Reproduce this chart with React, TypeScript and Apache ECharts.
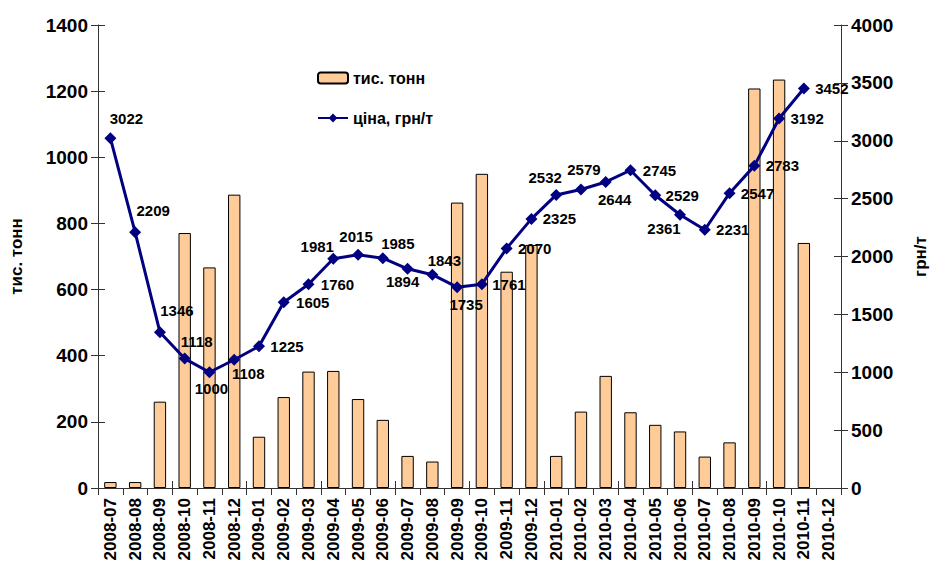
import React, { useEffect, useRef } from "react";
import * as echarts from "echarts";

const categories = [
  "2008-07", "2008-08", "2008-09", "2008-10", "2008-11", "2008-12",
  "2009-01", "2009-02", "2009-03", "2009-04", "2009-05", "2009-06",
  "2009-07", "2009-08", "2009-09", "2009-10", "2009-11", "2009-12",
  "2010-01", "2010-02", "2010-03", "2010-04", "2010-05", "2010-06",
  "2010-07", "2010-08", "2010-09", "2010-10", "2010-11", "2010-12",
];

const volume = [
  18, 18, 261, 771, 667, 887,
  155, 275, 352, 354, 269, 206,
  97, 80, 863, 950, 654, 735,
  97, 231, 339, 229, 191, 171,
  95, 138, 1208, 1235, 741, null,
];

const price = [
  3022, 2209, 1346, 1118, 1000, 1108,
  1225, 1605, 1760, 1981, 2015, 1985,
  1894, 1843, 1735, 1761, 2070, 2325,
  2532, 2579, 2644, 2745, 2529, 2361,
  2231, 2547, 2783, 3192, 3452, null,
];

// label offsets (dx, dy) relative to each marker
const labelOffsets = [
  [16, -20], [18, -22], [17, -22], [12, -17], [2, 16], [14, 14],
  [28, 0], [29, 0], [29, 0], [-16, -12], [-2, -18], [15, -15],
  [-5, 13], [12, -14], [9, 17], [27, 0], [28, 0], [28, 0],
  [-11, -17], [3, -20], [9, 18], [29, 0], [27, 0], [-16, 14],
  [28, 0], [28, 0], [28, 0], [28, 0], [28, 0], [0, 0],
];

const leftTicks = { min: 0, max: 1400, interval: 200 };
const rightTicks = { min: 0, max: 4000, interval: 500 };

const FONT = "'Liberation Sans', Arial, sans-serif";
const AXIS_COLOR = "#333";

export default function App() {
  const ref = useRef<HTMLDivElement>(null);

  useEffect(() => {
    if (!ref.current) return;
    const chart = echarts.init(ref.current, undefined, { renderer: "svg" });

    const tickLabel = {
      fontFamily: FONT,
      fontWeight: "bold",
      fontSize: 19,
      color: "#000",
      formatter: (v: number) => String(v),
    };

    const option: any = {
      animation: false,
      backgroundColor: "#fff",
      textStyle: { fontFamily: FONT },
      grid: { left: 97, right: 79, top: 25, bottom: 82 },
      legend: {
        orient: "vertical",
        left: 317,
        top: 70,
        padding: 0,
        itemWidth: 30,
        itemHeight: 11,
        itemGap: 24,
        textStyle: { fontFamily: FONT, fontWeight: "bold", fontSize: 16, color: "#000" },
        data: ["тис. тонн", "ціна, грн/т"],
      },
      xAxis: [
        {
          type: "category",
          data: categories,
          boundaryGap: true,
          axisLine: { lineStyle: { color: AXIS_COLOR, width: 1 } },
          axisTick: { show: true, length: 7, inside: false, lineStyle: { color: AXIS_COLOR } },
          axisLabel: {
            fontFamily: FONT,
            fontWeight: "bold",
            fontSize: 17,
            color: "#000",
            rotate: 90,
            interval: 0,
            margin: 10,
          },
          splitLine: { show: false },
        },
        {
          type: "category",
          data: categories,
          boundaryGap: true,
          position: "bottom",
          axisLine: { show: false },
          axisTick: { show: true, length: 7, inside: true, lineStyle: { color: AXIS_COLOR } },
          axisLabel: { show: false },
          splitLine: { show: false },
        },
      ],
      yAxis: [
        {
          type: "value",
          ...leftTicks,
          position: "left",
          name: "тис. тонн",
          nameLocation: "middle",
          nameRotate: 90,
          nameGap: 73,
          nameTextStyle: { fontFamily: FONT, fontWeight: "bold", fontSize: 17, color: "#000" },
          axisLine: { show: true, lineStyle: { color: AXIS_COLOR, width: 1 } },
          axisTick: { show: true, length: 7, lineStyle: { color: AXIS_COLOR } },
          axisLabel: { ...tickLabel, margin: 10 },
          splitLine: { show: false },
        },
        {
          type: "value",
          ...rightTicks,
          position: "right",
          name: "грн/т",
          nameLocation: "middle",
          nameRotate: 90,
          nameGap: 71,
          nameTextStyle: { fontFamily: FONT, fontWeight: "bold", fontSize: 17, color: "#000" },
          axisLine: { show: true, lineStyle: { color: AXIS_COLOR, width: 1 } },
          axisTick: { show: true, length: 7, lineStyle: { color: AXIS_COLOR } },
          axisLabel: { ...tickLabel, margin: 10 },
          splitLine: { show: false },
        },
        {
          type: "value",
          ...leftTicks,
          position: "left",
          axisLine: { show: false },
          axisTick: { show: true, inside: true, length: 7, lineStyle: { color: AXIS_COLOR } },
          axisLabel: { show: false },
          splitLine: { show: false },
        },
        {
          type: "value",
          ...rightTicks,
          position: "right",
          axisLine: { show: false },
          axisTick: { show: true, inside: true, length: 7, lineStyle: { color: AXIS_COLOR } },
          axisLabel: { show: false },
          splitLine: { show: false },
        },
      ],
      series: [
        {
          name: "тис. тонн",
          type: "bar",
          xAxisIndex: 0,
          yAxisIndex: 0,
          data: volume,
          barWidth: "50%",
          itemStyle: { color: "#FFCC99", borderColor: "#000", borderWidth: 1 },
          z: 2,
        },
        {
          name: "ціна, грн/т",
          type: "line",
          xAxisIndex: 0,
          yAxisIndex: 1,
          data: price.map((v, i) => ({
            value: v,
            label: { offset: labelOffsets[i] },
          })),
          symbol: "diamond",
          symbolSize: 12,
          lineStyle: { color: "#000080", width: 3 },
          itemStyle: { color: "#000080" },
          label: {
            show: true,
            position: "inside",
            fontFamily: FONT,
            fontWeight: "bold",
            fontSize: 15,
            color: "#000",
          },
          z: 5,
        },
      ],
    };

    chart.setOption(option);
    return () => chart.dispose();
  }, []);

  return (
    <div
      ref={ref}
      style={{ position: "fixed", left: 0, top: 0, width: 937, height: 570 }}
    />
  );
}
